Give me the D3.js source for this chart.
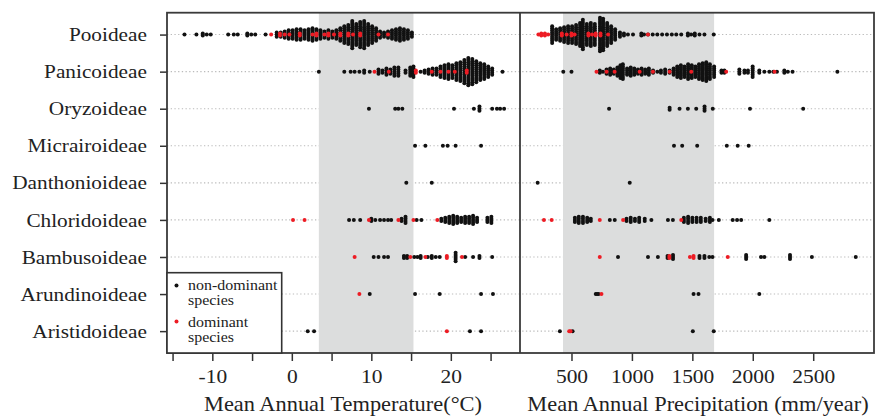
<!DOCTYPE html>
<html>
<head>
<meta charset="utf-8">
<script src="https://cdn.jsdelivr.net/npm/d3@7"></script>
<style>
  body { margin: 0; background: #fff; }
  svg { display: block; }
  svg text { font-family: "Liberation Serif", "Times New Roman", serif; }
</style>
</head>
<body>
<svg id="chart" width="878" height="417"></svg>
<script>
const subfamilies = ["Pooideae", "Panicoideae", "Oryzoideae", "Micrairoideae", "Danthonioideae",
  "Chloridoideae", "Bambusoideae", "Arundinoideae", "Aristidoideae"];
const tempTicks = [-15, -10, -5, 0, 5, 10, 15, 20, 25];
const precipTicks = [500, 1000, 1500, 2000, 2500];
const tempShade = [3.4, 15.3];
const precipShade = [430, 1680];

// one list per subfamily, entries are [value, number of species stacked there]
const tempNonDominant = [
  [[-13.5,1],[-12,1],[-11.2,2],[-10.7,1],[-10.2,1],[-8,1],[-7.3,1],[-6.8,1],[-5.6,2],[-5.1,1],[-4.6,1],[-3.3,1],[-1.9,3],
   [-1.4,3],[-0.9,4],[-0.4,5],[0.1,5],[0.6,6],[1.1,6],[1.6,5],[2.1,6],[2.6,7],[3.1,6],[3.6,5],[4.1,4],[4.6,5],[5.1,4],
   [5.6,5],[6.1,7],[6.6,9],[7.1,10],[7.6,14],[8.1,11],[8.6,13],[9.1,14],[9.6,11],[10.1,9],[10.6,7],[11.1,4],[11.6,3],
   [12.1,4],[12.6,5],[13.1,6],[13.6,7],[14.1,6],[14.6,5],[15.1,3]],
  [[3.4,1],[6.6,1],[7.4,1],[7.9,1],[8.5,1],[9.1,2],[9.8,1],[10.9,3],[11.4,2],[11.9,4],[12.4,3],[12.9,5],[13.4,5],[14.3,2],
   [14.9,5],[15.3,6],[16.2,1],[16.7,2],[17.2,3],[17.7,4],[18.2,4],[18.7,6],[19.2,7],[19.7,8],[20.2,7],[20.7,9],[21.2,10],
   [21.7,12],[22.2,14],[22.7,13],[23.2,11],[23.7,9],[24.2,8],[24.7,6],[25.2,4],[26.5,1]],
  [[9.7,1],[13,1],[13.4,1],[13.9,1],[20.4,1],[22.9,1],[23.6,3],[25.2,1],[25.8,1],[26.2,1],[26.7,1]],
  [[15.5,1],[16.8,1],[19,1],[19.6,1],[20.6,1],[23.8,1]],
  [[14.4,1],[17.6,1]],
  [[7.2,1],[7.8,1],[8.6,1],[10,2],[10.5,1],[11.1,1],[11.6,1],[12.1,1],[12.5,1],[13.8,2],[14.3,4],[15.7,1],[16.3,1],
   [18.8,2],[19.3,3],[19.8,4],[20.3,5],[20.8,4],[21.3,3],[21.8,4],[22.3,4],[22.8,5],[23.3,3],[24.6,3],[25.1,4]],
  [[10.3,1],[10.9,1],[11.6,1],[12.1,1],[14.1,2],[14.5,2],[15.4,1],[15.8,1],[16.2,2],[17.1,1],[17.6,2],[18.1,1],[18.6,1],
   [20.6,5],[21.8,1],[22.8,1],[23.6,2],[25.2,1]],
  [[9.8,1],[15.5,1],[18.6,1],[23.8,1],[25.3,1]],
  [[2.0,1],[2.8,1],[22.4,1],[23.8,1]]
];
const tempDominant = [
  [[-2.6,1],[-1.5,2],[-0.9,1],[-0.3,1],[1,2],[2.6,1],[3.1,2],[4.1,1],[4.6,2],[5.3,1],[6.1,2],[7.1,2],[7.7,1],[8.6,2],
   [10.9,1],[12.1,1]],
  [[10.4,1],[12.2,1],[15.6,2],[17.6,1],[18.7,1],[19.7,1],[20.5,1],[22,2]],
  [], [], [],
  [[0.15,1],[1.6,1],[9.7,1],[13.4,1],[15.3,1],[18.3,1]],
  [[7.9,1],[14.9,1],[16.8,1],[19.5,2],[21.4,1]],
  [[8.5,1]],
  [[19.5,1]]
];
const precipNonDominant = [
  [[340,9],[373,6],[406,7],[439,8],[472,9],[505,9],[538,10],[571,12],[594,15],[627,11],[660,12],[693,11],[736,17],
   [762,16],[795,12],[828,9],[861,6],[901,3],[934,2],[967,1],[1009,1],[1078,2],[1100,1],[1133,1],[1172,1],[1210,1],
   [1250,1],[1290,1],[1330,1],[1367,1],[1408,1],[1463,2],[1490,1],[1520,2],[1559,1],[1600,1],[1677,1]],
  [[432,1],[500,1],[734,2],[760,1],[790,3],[820,4],[850,3],[880,5],[905,7],[925,8],[960,4],[990,5],[1020,4],[1050,3],
   [1080,4],[1110,3],[1140,4],[1175,2],[1210,1],[1240,2],[1275,3],[1312,2],[1345,4],[1375,6],[1405,7],[1435,6],
   [1465,8],[1495,7],[1525,6],[1555,8],[1585,9],[1615,10],[1645,8],[1680,6],[1741,2],[1765,2],[1889,3],[1931,2],
   [1960,2],[1999,6],[2054,2],[2096,1],[2137,1],[2170,1],[2200,1],[2261,2],[2290,1],[2329,1],[2700,1]],
  [[811,1],[1312,2],[1394,1],[1463,1],[1532,1],[1601,3],[1669,1],[1977,1],[2417,1]],
  [[1348,1],[1416,1],[1540,1],[1785,1],[1875,1],[1966,1]],
  [[220,1],[982,1]],
  [[528,3],[560,4],[595,4],[630,3],[660,2],[817,1],[858,1],[955,2],[990,3],[1025,2],[1060,3],[1106,2],
   [1161,1],[1298,1],[1339,1],[1430,3],[1465,4],[1500,3],[1535,3],[1570,3],[1610,2],[1645,3],[1667,1],
   [1719,1],[1834,1],[1870,1],[1904,1],[2137,1]],
  [[885,1],[1133,1],[1215,1],[1295,2],[1340,3],[1559,2],[1600,2],[1640,1],[1667,1],[1945,3],[2068,1],[2096,1],
   [2308,3],[2489,1],[2852,1]],
  [[701,1],[712,1],[724,1],[1510,1],[1551,1],[2054,1]],
  [[404,1],[509,1],[1504,1],[1677,1]]
];
const precipDominant = [
  [[226,1],[250,2],[280,2],[307,1],[420,2],[460,1],[500,2],[526,1],[640,2],[670,1],[700,2],[740,2],[803,1],[1133,1]],
  [[707,1],[790,1],[857,1],[1064,1],[1174,1],[1312,1],[1491,1],[1780,1],[2180,1]],
  [], [], [],
  [[272,1],[336,1],[734,1],[927,1],[1408,1]],
  [[734,1],[1310,2],[1480,1],[1510,2],[1793,1]],
  [[748,1]],
  [[481,1],[492,1]]
];

const plotTop = 12.7, plotBottom = 353, plotLeft = 167, plotMid = 520, plotRight = 874;
const ink = "#222";
const serif = "'Liberation Serif', 'Times New Roman', serif";
const svg = d3.select("#chart");

const y = d3.scalePoint().domain(subfamilies).range([plotTop, plotBottom]).padding(0.59);
const xT = d3.scaleLinear().domain([-15.7, 28.7]).range([plotLeft, plotMid]);
const xP = d3.scaleLinear().domain([74, 3003]).range([plotMid, plotRight]);

// dotted row lines
svg.append("g").selectAll("line").data(subfamilies).join("line")
  .attr("x1", plotLeft).attr("x2", plotRight)
  .attr("y1", d => y(d)).attr("y2", d => y(d))
  .attr("stroke", "#bbb").attr("stroke-width", 1.1)
  .attr("stroke-dasharray", "1.3,2.4");

// shaded ranges
[[xT, tempShade], [xP, precipShade]].forEach(([x, s]) => {
  svg.append("rect")
    .attr("x", x(s[0])).attr("y", plotTop)
    .attr("width", x(s[1]) - x(s[0])).attr("height", plotBottom - plotTop)
    .attr("fill", "#dcdddd");
});

function drawDots(x, rows, color) {
  const pts = [];
  rows.forEach((row, i) => row.forEach(([v, n]) => {
    for (let k = 0; k < n; k++) pts.push({ v: v, cat: subfamilies[i], off: (k - (n - 1) / 2) * 2.1 });
  }));
  svg.append("g").selectAll("circle").data(pts).join("circle")
    .attr("cx", d => x(d.v))
    .attr("cy", d => y(d.cat) + d.off)
    .attr("r", 2)
    .attr("fill", color);
}
drawDots(xT, tempNonDominant, "#111");
drawDots(xP, precipNonDominant, "#111");
drawDots(xT, tempDominant, "#ed1c24");
drawDots(xP, precipDominant, "#ed1c24");

// axes
const yAxis = svg.append("g")
  .attr("transform", `translate(${plotLeft},0)`)
  .call(d3.axisLeft(y).tickSize(7).tickPadding(11));
const xAxisT = svg.append("g")
  .attr("transform", `translate(0,${plotBottom})`)
  .call(d3.axisBottom(xT).tickValues(tempTicks).tickSize(8).tickPadding(8.5)
    .tickFormat(d => d % 10 === 0 ? String(d) : ""));
const xAxisP = svg.append("g")
  .attr("transform", `translate(0,${plotBottom})`)
  .call(d3.axisBottom(xP).tickValues(precipTicks).tickSize(8).tickPadding(8.5)
    .tickFormat(d => String(d)));

[yAxis, xAxisT, xAxisP].forEach(g => {
  g.select(".domain").remove();
  g.attr("font-family", serif).attr("font-size", null);
  g.selectAll(".tick line").attr("stroke", "#333").attr("stroke-width", 1.5);
  g.selectAll(".tick text").attr("fill", ink).attr("font-family", serif);
});
yAxis.selectAll(".tick text").attr("font-size", 19).attr("transform", "scale(1.12,1)");
xAxisT.selectAll(".tick text").attr("font-size", 19.5).attr("transform", "scale(1.1,1)");
xAxisP.selectAll(".tick text").attr("font-size", 19.5).attr("transform", "scale(1.1,1)");

// frame
svg.append("rect")
  .attr("x", plotLeft).attr("y", plotTop)
  .attr("width", plotRight - plotLeft).attr("height", plotBottom - plotTop)
  .attr("fill", "none").attr("stroke", "#3a3a3a").attr("stroke-width", 1.8);
svg.append("line")
  .attr("x1", plotMid).attr("x2", plotMid).attr("y1", plotTop).attr("y2", plotBottom)
  .attr("stroke", "#3a3a3a").attr("stroke-width", 1.8);

// axis titles
function label(x, yy, txt, size, anchor, sx) {
  svg.append("g").attr("transform", `translate(${x},${yy}) scale(${sx},1)`)
    .append("text")
    .attr("text-anchor", anchor)
    .attr("font-family", serif)
    .attr("font-size", size)
    .attr("fill", ink)
    .text(txt);
}
label((plotLeft + plotMid) / 2 - 0.5, 411, "Mean Annual Temperature(°C)", 20, "middle", 1.12);
label((plotMid + plotRight) / 2 + 1, 411, "Mean Annual Precipitation (mm/year)", 20, "middle", 1.12);

// legend
const legendTop = 272.7;
svg.append("rect")
  .attr("x", plotLeft).attr("y", legendTop)
  .attr("width", 114.7).attr("height", plotBottom - legendTop)
  .attr("fill", "#fff").attr("stroke", "#333").attr("stroke-width", 1.6);
svg.append("circle").attr("cx", 176.5).attr("cy", 285.5).attr("r", 2).attr("fill", "#111");
svg.append("circle").attr("cx", 176.5).attr("cy", 321.5).attr("r", 2).attr("fill", "#ed1c24");
label(188, 290, "non-dominant", 14.5, "start", 1.1);
label(188, 305, "species", 14.5, "start", 1.1);
label(188, 326.5, "dominant", 14.5, "start", 1.1);
label(188, 341.5, "species", 14.5, "start", 1.1);
</script>
</body>
</html>
